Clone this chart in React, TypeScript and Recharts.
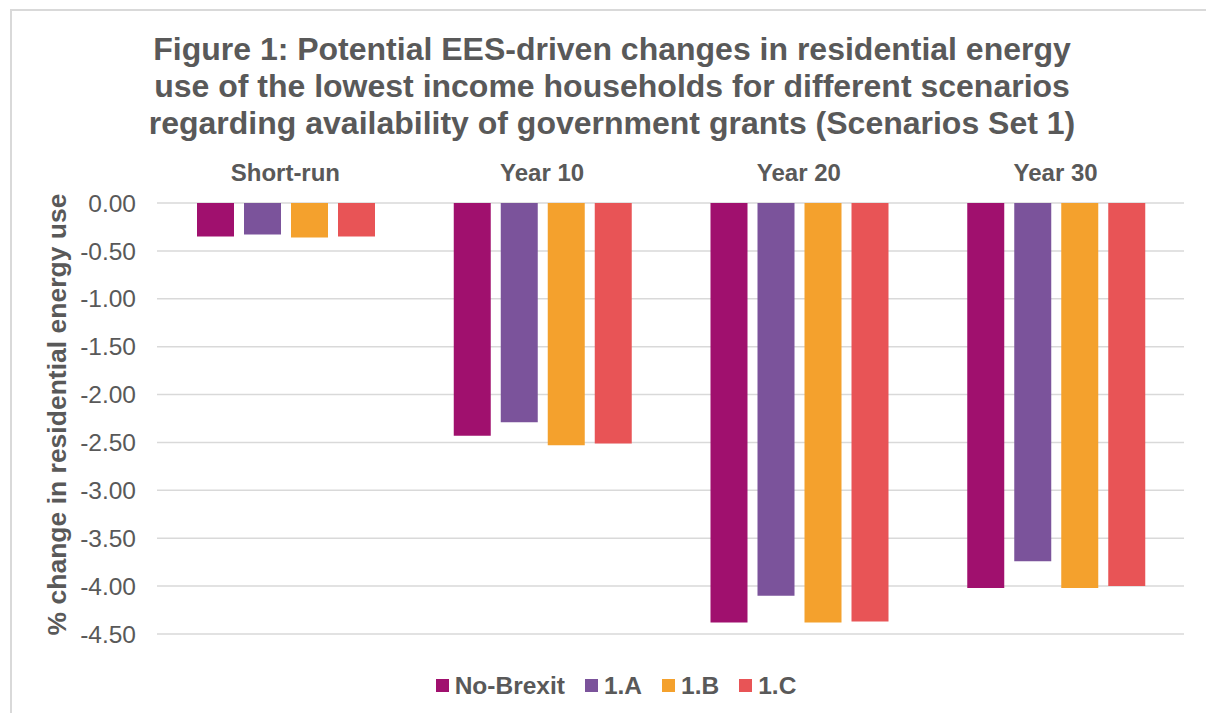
import { Bar, BarChart, CartesianGrid, Label, Legend, XAxis, YAxis } from "recharts";

const FONT = '"Liberation Sans", Arial, Helvetica, sans-serif';
const TEXT_COLOUR = "#595959";
const GRID_COLOUR = "#d9d9d9";

const TITLE_LINES = [
  "Figure 1: Potential EES-driven changes in residential energy",
  "use of the lowest income households for different scenarios",
  "regarding availability of government grants (Scenarios Set 1)",
];
const Y_LABEL = "% change in residential energy use";

const categories = ["Short-run", "Year 10", "Year 20", "Year 30"];
const noBrexit = [-0.35, -2.43, -4.38, -4.02];
const scenario1A = [-0.33, -2.29, -4.1, -3.74];
const scenario1B = [-0.36, -2.53, -4.38, -4.02];
const scenario1C = [-0.35, -2.51, -4.37, -4.0];
const yTicks = [0, -0.5, -1, -1.5, -2, -2.5, -3, -3.5, -4, -4.5];

const SERIES = [
  { key: "noBrexit", name: "No-Brexit", colour: "#a0106e" },
  { key: "s1A", name: "1.A", colour: "#7b539b" },
  { key: "s1B", name: "1.B", colour: "#f4a12d" },
  { key: "s1C", name: "1.C", colour: "#e85456" },
];

const rows = categories.map((cat, i) => ({
  cat,
  noBrexit: noBrexit[i],
  s1A: scenario1A[i],
  s1B: scenario1B[i],
  s1C: scenario1C[i],
}));

function CategoryTick({ x, y, payload }: { x?: number; y?: number; payload?: { value: string } }) {
  return (
    <text x={x} y={y} textAnchor="middle" fontFamily={FONT} fontSize={24} fontWeight="bold" fill={TEXT_COLOUR}>
      {payload?.value}
    </text>
  );
}

function YLabel({ viewBox }: { viewBox?: { x: number; y: number; width: number; height: number } }) {
  if (!viewBox) return null;
  const cx = viewBox.x + 57;
  const cy = viewBox.y + viewBox.height / 2 - 4;
  return (
    <text
      x={cx}
      y={cy}
      transform={`rotate(-90, ${cx}, ${cy})`}
      textAnchor="middle"
      dominantBaseline="central"
      fontFamily={FONT}
      fontSize={26.5}
      fontWeight="bold"
      fill={TEXT_COLOUR}
    >
      {Y_LABEL}
    </text>
  );
}

function LegendContent() {
  return (
    <div style={{ height: 66, boxSizing: "border-box", paddingTop: 38 }}>
      <div style={{ display: "flex", justifyContent: "center", alignItems: "center", height: 27 }}>
        {SERIES.map((s, i) => (
          <div key={s.key} style={{ display: "flex", alignItems: "center", marginLeft: i === 0 ? 0 : 20 }}>
            <span style={{ width: 13, height: 13, background: s.colour, marginRight: 6, display: "inline-block" }} />
            <span style={{ fontFamily: FONT, fontSize: 24.5, fontWeight: "bold", color: TEXT_COLOUR, lineHeight: "27px" }}>
              {s.name}
            </span>
          </div>
        ))}
      </div>
    </div>
  );
}

export default function App() {
  return (
    <div style={{ position: "absolute", left: 0, top: 0, width: 1206, height: 713, overflow: "hidden", background: "#fff" }}>
      <div
        style={{
          position: "absolute",
          left: 10,
          top: 9,
          width: 1230,
          height: 730,
          border: `2px solid ${GRID_COLOUR}`,
        }}
      />
      <div
        style={{
          position: "absolute",
          left: 0,
          top: 31,
          width: 1224,
          textAlign: "center",
          fontFamily: FONT,
          fontSize: 32,
          fontWeight: "bold",
          lineHeight: "37px",
          color: TEXT_COLOUR,
        }}
      >
        {TITLE_LINES.map((l) => (
          <div key={l}>{l}</div>
        ))}
      </div>
      <div style={{ position: "absolute", left: 0, top: 0 }}>
        <BarChart
          width={1206}
          height={713}
          data={rows}
          margin={{ top: 173, right: 22, bottom: 13, left: 0 }}
          barCategoryGap={40}
          barGap={10}
        >
          <CartesianGrid vertical={false} stroke={GRID_COLOUR} strokeWidth={1.5} />
          <XAxis
            dataKey="cat"
            orientation="top"
            height={30}
            axisLine={false}
            tickLine={false}
            tickSize={0}
            tickMargin={22}
            tick={<CategoryTick />}
            interval={0}
          />
          <YAxis
            width={157}
            domain={[-4.5, 0]}
            ticks={yTicks}
            interval={0}
            axisLine={false}
            tickLine={false}
            tickSize={0}
            tickMargin={21}
            tickFormatter={(v: number) => v.toFixed(2)}
            tick={{ fontFamily: FONT, fontSize: 24.5, fill: TEXT_COLOUR }}
          >
            <Label content={<YLabel />} />
          </YAxis>
          <Legend
            verticalAlign="bottom"
            content={<LegendContent />}
            wrapperStyle={{ left: 0, width: 1232 }}
          />
          {SERIES.map((s) => (
            <Bar key={s.key} dataKey={s.key} name={s.name} fill={s.colour} isAnimationActive={false} />
          ))}
        </BarChart>
      </div>
    </div>
  );
}
